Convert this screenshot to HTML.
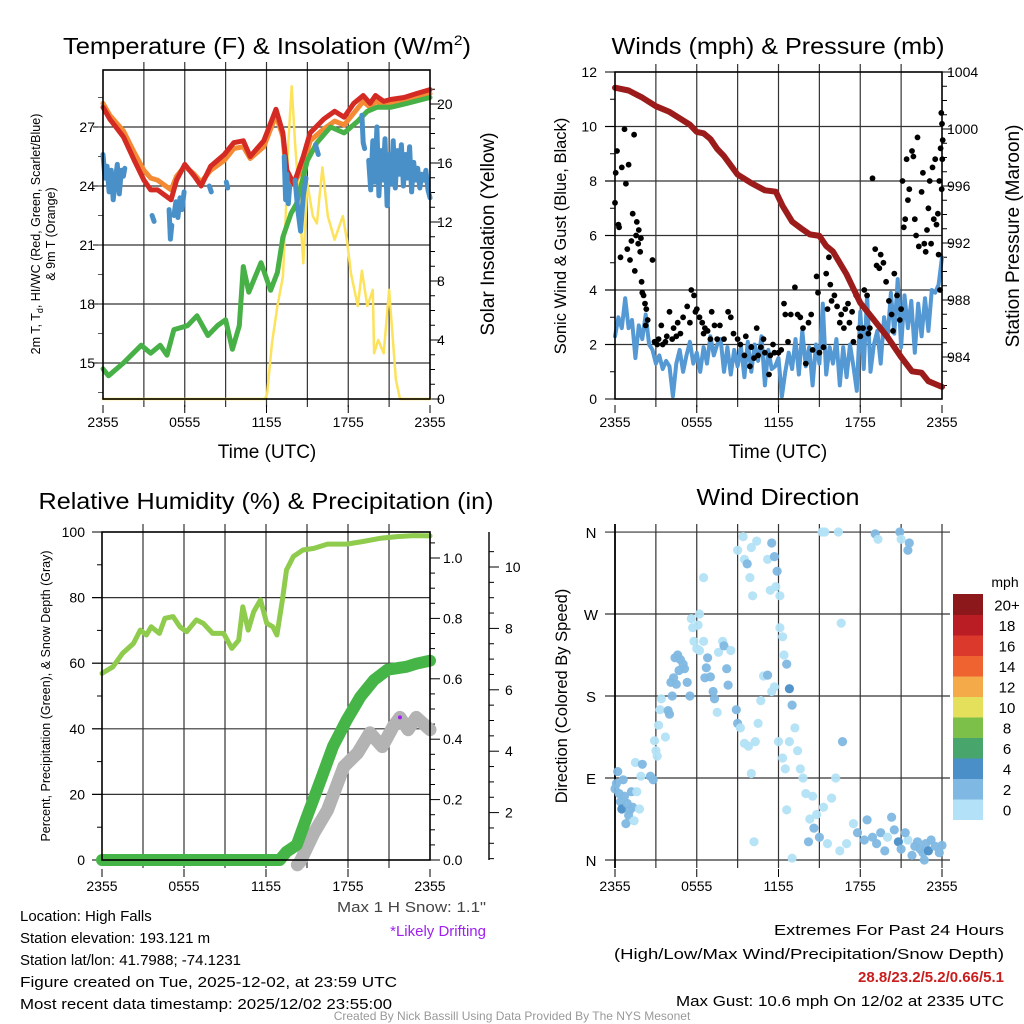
<!DOCTYPE html>
<html><head><meta charset="utf-8"><style>
html,body{margin:0;padding:0;background:#fff;}
svg{display:block;font-family:"Liberation Sans",Arial,sans-serif;}
</style></head><body>
<svg id="fig" width="1024" height="1024" viewBox="0 0 1024 1024">
<rect x="0" y="0" width="1024" height="1024" fill="#fff"/>
<text x="267" y="54" text-anchor="middle" font-size="23" textLength="408" lengthAdjust="spacingAndGlyphs">Temperature (F) &amp; Insolation (W/m<tspan dy="-9" font-size="14">2</tspan><tspan dy="9">)</tspan></text>
<text x="778" y="54" text-anchor="middle" font-size="23" textLength="333" lengthAdjust="spacingAndGlyphs">Winds (mph) &amp; Pressure (mb)</text>
<text x="266" y="509" text-anchor="middle" font-size="23" textLength="455" lengthAdjust="spacingAndGlyphs">Relative Humidity (%) &amp; Precipitation (in)</text>
<text x="778" y="505" text-anchor="middle" font-size="23" textLength="163" lengthAdjust="spacingAndGlyphs">Wind Direction</text>
<text x="267" y="458" text-anchor="middle" font-size="19">Time (UTC)</text>
<text x="778" y="458" text-anchor="middle" font-size="19">Time (UTC)</text>
<text transform="translate(40,234) rotate(-90)" text-anchor="middle" font-size="12.5">2m T, T<tspan font-size="9" dy="3">d</tspan><tspan dy="-3">, HI/WC (Red, Green, Scarlet/Blue)</tspan></text>
<text transform="translate(55,234) rotate(-90)" text-anchor="middle" font-size="12.5">&amp; 9m T (Orange)</text>
<text transform="translate(494,234) rotate(-90)" text-anchor="middle" font-size="19">Solar Insolation (Yellow)</text>
<text transform="translate(566,236) rotate(-90)" text-anchor="middle" font-size="16.5">Sonic Wind &amp; Gust (Blue, Black)</text>
<text transform="translate(1019,236) rotate(-90)" text-anchor="middle" font-size="19">Station Pressure (Maroon)</text>
<text transform="translate(50,696) rotate(-90)" text-anchor="middle" font-size="12.5">Percent, Precipitation (Green), &amp; Snow Depth (Gray)</text>
<text transform="translate(567,696) rotate(-90)" text-anchor="middle" font-size="16.5">Direction (Colored By Speed)</text>
<g font-size="15">
<text x="486" y="912" text-anchor="end" fill="#444" textLength="149" lengthAdjust="spacingAndGlyphs">Max 1 H Snow: 1.1"</text>
<text x="486" y="936" text-anchor="end" fill="#a020f0">*Likely Drifting</text>
<text x="20" y="921">Location: High Falls</text>
<text x="20" y="943">Station elevation: 193.121 m</text>
<text x="20" y="965">Station lat/lon: 41.7988; -74.1231</text>
<text x="20" y="987" textLength="377" lengthAdjust="spacingAndGlyphs">Figure created on Tue, 2025-12-02, at 23:59 UTC</text>
<text x="20" y="1009" textLength="372" lengthAdjust="spacingAndGlyphs">Most recent data timestamp: 2025/12/02 23:55:00</text>
<text x="1004" y="935" text-anchor="end" textLength="230" lengthAdjust="spacingAndGlyphs">Extremes For Past 24 Hours</text>
<text x="1004" y="959" text-anchor="end" textLength="390" lengthAdjust="spacingAndGlyphs">(High/Low/Max Wind/Precipitation/Snow Depth)</text>
<text x="1004" y="982" text-anchor="end" fill="#c81e1e" font-weight="bold">28.8/23.2/5.2/0.66/5.1</text>
<text x="1004" y="1006" text-anchor="end" textLength="328" lengthAdjust="spacingAndGlyphs">Max Gust: 10.6 mph On 12/02 at 2335 UTC</text>
</g>
<text x="512" y="1020" text-anchor="middle" font-size="12" fill="#999">Created By Nick Bassill Using Data Provided By The NYS Mesonet</text>
</svg>
<script>
// ---------- data ----------
const timeLabels = ["2355","0555","1155","1755","2355"];
const redH = [0,0.5,1.5,2.3,3,3.5,4,5,5.4,6,6.7,7.2,7.9,8.9,9.6,10.3,10.8,11.8,12.7,13.2,13.5,14,14.7,15.2,16.2,17,17.7,18.4,19.1,19.6,20,20.6,21.1,22.1,23,24];
const redT = [28.0,27.4,26.5,25.3,24.3,23.8,23.8,23.3,24.3,25.1,24.5,24.0,25.0,25.6,26.2,26.3,25.5,26.3,27.9,26.7,24.8,24.1,25.5,26.7,27.4,27.8,27.5,28.2,28.6,28.2,28.6,28.3,28.4,28.5,28.7,28.9];
const orangeH = [0,0.5,1.5,2.3,3,3.5,4,5,5.4,6,6.7,7.2,7.9,8.9,9.6,10.3,10.8,11.8,12.7,13.2,13.5,14,14.7,15.2,16.2,17,17.7,18.4,19.1,19.6,20,20.6,21.1,22.1,23,24];
const orangeT = [28.2,27.6,26.8,25.7,24.8,24.4,24.3,23.8,24.5,25.0,24.6,24.2,24.8,25.3,25.9,26.0,25.4,26.0,27.6,26.5,24.3,24.1,25.0,26.3,26.9,27.3,27.1,27.7,28.3,28.0,28.3,28.1,28.2,28.3,28.5,28.7];
const dewH = [0,0.4,1.5,2.8,3.5,4.2,4.7,5.2,6.2,6.9,7.7,8.4,9,9.5,10,10.3,10.7,11.6,12.3,12.8,13.2,13.8,14.2,15,15.7,16.7,17.7,18.7,19.4,20.1,21.1,22.3,24];
const dewT = [14.7,14.35,15.0,15.9,15.5,15.9,15.4,16.7,16.9,17.4,16.4,16.9,17.2,15.7,16.9,19.9,18.6,20.1,18.7,19.6,21.4,22.6,23.1,25.3,26.2,27.0,26.7,27.3,27.8,28.0,28.0,28.2,28.5];
const hiwcH = [0,0.15,0.3,0.45,0.6,0.75,0.9,1.05,1.2,1.35,1.5,1.6,1.65,3.6,3.75,3.8,4.85,4.95,5.05,5.1,5.2,5.35,5.5,5.65,5.8,5.95,6.0,7.8,7.95,8.0,9.05,9.15,9.2,13.3,13.4,13.5,13.6,13.7,13.9,14.1,14.3,14.5,14.7,14.9,15.0,15.6,15.8,15.9,19.0,19.1,19.2,19.3,19.5,19.65,19.8,19.95,20.1,20.25,20.4,20.55,20.7,20.85,21.0,21.15,21.3,21.45,21.6,21.75,21.9,22.05,22.2,22.35,22.5,22.65,22.8,22.95,23.1,23.25,23.4,23.55,23.7,23.85,24];
const hiwcT = [25.6,24.4,25.0,23.7,24.8,23.3,24.3,25.1,23.6,24.8,24.5,24.9,null,22.5,22.2,null,22.8,21.3,22.0,null,22.5,23.2,22.4,23.4,22.8,23.7,null,24.0,23.7,null,24.2,23.9,null,25.5,23.3,24.6,23.1,24.0,null,24.3,22.8,21.7,23.5,24.4,null,26.1,25.6,null,27.6,26.2,25.9,null,25.3,23.8,26.3,24.2,27.0,23.5,25.8,24.3,26.4,23.0,25.6,24.1,26.3,23.9,25.8,24.6,26.1,24.0,25.6,24.4,26.0,23.7,25.2,24.3,24.9,23.9,24.6,24.3,24.8,23.8,23.4];
const insH = [0,11.9,12.05,12.4,12.8,13.2,13.4,13.6,13.85,14.1,14.4,14.7,15,15.4,15.7,16.1,16.5,17,17.6,17.9,18.2,18.7,19,19.4,19.8,19.9,20.2,20.6,21,21.5,21.8,24];
const insV = [0,0,0.4,3.8,6.3,8.3,12.2,17.3,21.2,17.3,13.5,9.2,14.6,12.4,11.9,15.7,12.4,10.8,12.4,10.8,8.5,6.3,8.7,6.3,7.4,3.1,4.0,3.1,7.4,1.3,0,0];

const pressH = [0,1,2,3,4,5,5.5,6,6.5,7,7.5,8,9,10,11,11.8,12.3,13,13.7,14.3,15,15.5,16,17,18,19,20,21,21.8,22.5,23,24];
const pressV = [1002.9,1002.7,1002.2,1001.6,1001.2,1000.6,1000.3,999.8,999.7,999.3,998.6,998.1,996.8,996.2,995.7,995.6,994.6,993.5,993.0,992.6,992.5,991.8,991.4,989.8,987.8,986.6,985.4,984.0,983.0,982.9,982.3,981.9];
const windV = [2.3,3.0,2.6,3.7,2.6,2.9,1.5,2.7,2.2,3.1,2.0,1.8,1.3,1.6,1.1,1.4,
1.2,0.1,1.3,1.8,1.0,1.6,2.1,1.3,1.7,1.0,1.9,1.3,2.3,1.6,2.0,2.2,
1.0,1.9,0.9,1.8,1.2,1.9,0.8,2.1,1.0,2.0,1.4,2.3,0.5,1.8,1.1,1.2,
1.5,0.1,1.0,1.7,1.1,2.2,0.9,2.5,1.2,1.9,0.5,2.0,1.3,3.5,0.9,1.9,
1.3,2.2,0.5,1.9,0.8,2.0,1.2,0.3,3.2,1.1,3.8,1.0,2.0,2.5,1.3,3.0,
2.2,3.9,2.4,4.4,1.9,3.8,2.6,3.6,1.7,3.5,2.3,3.7,2.5,4.0,3.9,4.2,5.2];
const gustH = [0,0.05,0.15,0.25,0.3,0.4,0.5,0.7,0.8,0.9,1.0,1.1,1.2,1.3,1.4,1.45,1.55,1.6,1.7,1.75,1.85,1.9,1.95,2.0,2.1,2.2,2.3,2.4,2.25,2.75,2.9,3.1,3.2,3.4,3.5,3.7,3.8,4.0,4.2,4.3,4.5,4.6,4.8,5.0,5.3,5.5,5.6,5.8,5.9,6.0,6.2,6.4,6.5,6.6,6.8,7.0,7.1,7.3,7.5,7.7,8.0,8.3,8.5,8.7,9.0,9.2,9.5,9.6,9.9,10.0,10.2,10.4,10.5,10.7,10.9,11.0,11.3,11.4,11.6,11.7,12.0,12.2,12.4,12.5,12.7,12.9,13.2,13.4,13.6,13.8,14.0,14.2,14.4,14.5,14.8,14.9,15.0,15.3,15.5,15.6,15.7,15.8,15.9,16.1,16.3,16.5,16.6,16.8,16.9,17.1,17.2,17.4,17.5,17.7,17.9,18.0,18.2,18.3,18.5,18.6,18.7,18.9,19.1,19.2,19.4,19.5,19.7,19.9,20.1,20.3,20.4,20.5,20.7,20.9,21.0,21.1,21.2,21.3,21.4,21.5,21.6,21.8,21.9,22.0,22.1,22.2,22.3,22.5,22.6,22.7,22.8,22.9,23.0,23.1,23.2,23.3,23.4,23.5,23.6,23.7,23.75,23.8,23.85,23.9,23.95,24.0,24.02,24.05,23.98];
const gustV = [7.2,8.3,9.1,6.4,6.3,5.2,8.5,9.9,7.9,5.5,8.6,5.1,5.8,6.8,9.7,4.7,6.0,6.5,5.7,6.2,5.4,5.9,4.3,3.9,3.8,3.5,3.3,2.9,2.7,5.1,2.1,2.0,2.2,2.7,2.0,2.1,2.3,3.2,2.2,2.6,2.3,2.8,2.4,3.0,3.4,2.8,4.0,3.8,3.2,3.3,3.0,2.8,2.4,2.6,2.5,2.2,3.2,2.7,2.2,2.7,2.2,3.2,3.0,2.4,2.2,2.0,1.6,2.3,1.2,1.9,1.5,2.6,1.6,1.9,2.2,1.7,0.9,1.6,2.0,1.7,1.7,1.8,3.5,3.1,2.1,3.1,4.1,3.1,3.0,2.6,1.3,2.8,3.1,1.8,4.5,3.9,1.7,1.9,4.6,3.3,5.2,4.2,3.6,3.8,3.4,2.8,3.1,2.6,3.3,3.5,2.8,3.2,2.1,3.8,2.6,2.3,2.6,4.0,3.8,2.4,2.6,8.1,5.5,4.9,4.8,5.3,5.0,4.3,3.6,3.1,2.5,4.6,3.8,2.9,3.3,8.0,6.3,6.6,8.8,7.3,7.7,9.1,8.9,6.6,6.0,9.6,5.6,7.6,8.3,5.7,5.4,6.2,7.0,8.0,5.7,8.5,6.6,8.8,6.4,6.8,5.3,8.0,4.0,9.2,10.5,10.1,8.8,9.5,7.7];

const rhH = [0,0.8,1.5,2.3,2.8,3.25,3.6,4.2,4.6,5.2,5.7,6.2,6.9,7.4,8.1,8.9,9.5,10,10.3,10.7,11.1,11.6,12.05,12.5,12.8,13.2,13.5,14,14.7,15.5,16.5,17.9,19.1,20.4,21.6,22.8,24];
const rhV = [56.9,58.9,63,66,70.1,68.6,71.1,69.1,73.7,74.2,71.1,69.6,73.2,72.2,69.1,69.1,64.5,67,77.2,70.1,75.7,79.3,72.2,71.1,68.6,79.3,88.4,92.5,94.5,95,96.3,96.3,97.1,98.1,98.6,98.9,98.8];
const precipH = [0,13,13.5,14.25,15,16,16.9,17.9,18.9,19.9,20.9,22.3,23,24];
const precipV = [0,0,0.027,0.05,0.144,0.265,0.376,0.463,0.54,0.596,0.63,0.64,0.65,0.66];
const snowH = [14.3,14.5,15.5,16.5,17.7,18.7,19.6,20.5,21.3,21.8,22.4,23,24];
const snowV = [0.3,0.4,1.33,2.08,3.5,3.94,4.6,4.15,4.8,5.1,4.7,5.1,4.7];
const driftH = [21.8];
const driftV = [5.1];

const dirH = [0,0.1,0.2,0.3,0.4,0.5,0.6,0.7,0.8,0.9,1.0,1.1,1.2,1.3,1.4,1.5,1.6,1.8,1.9,2.0,2.6,2.8,2.9,3.0,3.1,3.2,3.3,3.4,3.7,3.9,4.0,4.1,4.2,4.3,4.4,4.5,4.6,4.7,4.8,5.0,5.1,5.3,5.5,5.6,5.8,5.7,6.0,6.2,6.5,6.6,6.7,6.8,7.0,7.2,7.3,7.5,7.6,7.9,8.0,8.2,8.3,8.5,8.9,9.0,9.2,9.5,9.8,10.0,10.3,10.5,10.7,10.9,11.2,11.5,11.7,12.0,12.3,12.5,12.6,12.8,13.0,10.2,9.0,9.4,9.5,9.7,9.9,10.1,10.4,10.0,11.2,11.5,11.7,11.9,11.8,12.1,11.4,6.5,6.1,6.2,12.1,12.3,12.4,12.6,12.8,13.0,13.2,13.4,13.6,13.8,14.0,14.5,14.8,15.3,14.3,14.6,14.2,15.0,15.6,16.5,16.7,16.2,15.9,16.6,17.0,17.5,17.8,18.3,18.5,18.9,19.2,19.5,19.8,20.0,20.3,20.5,20.8,21.0,21.5,21.8,22.0,22.2,22.4,22.6,22.8,23.0,23.2,23.5,23.8,24.0,22.7,21.3,20.9,21.0,21.6,21.5,19.1,19.3,15.2,15.4,16.4];
const dirV = [78,84,97,73,64,56,88,70,40,62,49,55,75,58,43,107,75,56,92,105,92,88,131,120,114,148,165,177,135,164,160,195,180,200,222,193,225,208,220,215,210,195,180,265,240,255,232,230,240,200,211,222,201,185,177,162,228,240,235,210,192,230,165,150,145,128,125,95,130,150,175,202,203,185,190,130,112,100,55,130,2,20,340,355,330,325,310,290,350,343,330,348,333,317,300,290,296,310,258,270,255,245,225,215,188,170,145,120,100,90,73,70,50,58,45,35,20,25,18,10,130,90,68,260,18,40,30,22,44,25,18,30,10,25,47,33,20,12,22,5,15,20,12,8,18,10,22,15,8,16,0,30,360,352,348,340,358,352,360,360,360];
const dirS = [3,3,3,3,2,4,3,2,3,2,2,2,3,2,1,1,1,1,1,2,3,3,1,1,1,1,1,1,1,2,2,3,2,3,3,2,3,2,3,2,3,2,3,1,1,1,1,1,1,2,2,3,3,2,2,1,1,1,2,2,3,1,3,3,1,1,1,1,1,1,1,1,3,1,1,1,1,1,1,1,1,1,1,1,1,2,1,1,1,1,1,3,3,2,1,1,1,1,1,1,1,1,1,2,4,2,1,1,1,1,1,1,1,1,1,2,3,2,1,1,2,1,1,1,1,1,2,2,3,3,2,3,2,1,2,3,4,3,1,3,3,2,3,3,3,4,3,3,3,3,3,3,3,1,2,3,3,1,1,1,1,1];
const cbLabels = ["0","2","4","6","8","10","12","14","16","18","20+"];
const cbColors = ["#b3e1f7","#7fb8e2","#4a8fc7","#48a66c","#7cc04a","#e4e05b","#f5aa4a","#ee6330","#db392c","#bb1d24","#8d181b"];
const dirLabels = ["N","E","S","W","N"];

// ---------- helpers ----------
const NS = "http://www.w3.org/2000/svg";
const svg = document.getElementById("fig");
function mk(tag, attrs, name, parent) {
  const el = document.createElementNS(NS, tag);
  for (const k in attrs) el.setAttribute(k, attrs[k]);
  
  
  (parent || svg).appendChild(el);
  return el;
}
function txt(x, y, s, anchor, size, name, fill) {
  const t = mk("text", {x: x, y: y, "text-anchor": anchor, "font-size": size, fill: fill || "#000"}, name);
  t.textContent = s;
  return t;
}
function pathFrom(hs, vs, fx, fy) {
  let d = "", pen = false;
  for (let i = 0; i < hs.length; i++) {
    if (vs[i] === null) { pen = false; continue; }
    d += (pen ? "L" : "M") + fx(hs[i]).toFixed(1) + " " + fy(vs[i]).toFixed(1);
    pen = true;
  }
  return d;
}
function series(hs, vs, fx, fy, color, w, name) {
  return mk("path", {d: pathFrom(hs, vs, fx, fy), fill: "none", stroke: color, "stroke-width": w, "stroke-linejoin": "round", "stroke-linecap": "round"}, name);
}
function ln(x1, y1, x2, y2, w, name, c) {
  return mk("line", {x1: x1, y1: y1, x2: x2, y2: y2, stroke: c || "#000", "stroke-width": w}, name);
}
function grid(x0, x1, y0, y1, hy, name) {
  for (let i = 1; i < 8; i++) {
    const x = x0 + (x1 - x0) * i / 8;
    ln(x, y0 - 8, x, y1 + 8, 1.2, name + "-vgrid", "#333");
  }
  hy.forEach(y => ln(x0 - 10, y, x1, y, 1.2, name + "-hgrid", "#333"));
}
function box(x0, x1, y0, y1, name) {
  mk("rect", {x: x0, y: y0, width: x1 - x0, height: y1 - y0, fill: "none", stroke: "#000", "stroke-width": 1.6}, name);
}
function xlabels(x0, x1, y, name) {
  timeLabels.forEach((s, i) => {
    const x = x0 + (x1 - x0) * i / 4;
    ln(x, y - 22, x, y - 14, 1, name + "-tick");
    txt(x, y, s, "middle", 14, name + "-label");
  });
}

// ---------- panel 1: temperature ----------
(function () {
  const x0 = 103, x1 = 430, y0 = 70, y1 = 399;
  const fx = h => x0 + h * (x1 - x0) / 24;
  const fy = t => 186 - (t - 24) * 19.67;
  const fi = v => 399 - v * 14.75;
  const tTicks = [15, 18, 21, 24, 27];
  grid(x0, x1, y0, y1, tTicks.map(fy), "temp");
  tTicks.forEach(t => txt(95, fy(t) + 5, String(t), "end", 14, "temp-y-tick-label"));
  for (let t = 13.5; t <= 29.5; t += 1.5) ln(x0 - 5, fy(t), x0, fy(t), 1, "temp-y-minor-tick", "#555");
  for (let v = 0; v <= 21; v++) ln(x1, fi(v), x1 + (v % 4 === 0 ? 10 : 5), fi(v), 1, "insolation-tick");
  [0, 4, 8, 12, 16, 20].forEach(v => txt(437, fi(v) + 5, String(v), "start", 14, "insolation-tick-label"));
  xlabels(x0, x1, 427, "temp-x");
  series(insH, insV, fx, fi, "#fde25c", 2.5, "insolation-line");
  series(orangeH, orangeT, fx, fy, "#f58a34", 5, "nine-m-temp-line");
  series(redH, redT, fx, fy, "#d42a24", 5, "two-m-temp-line");
  series(dewH, dewT, fx, fy, "#47b047", 5, "dewpoint-line");
  series(hiwcH, hiwcT, fx, fy, "#4a90c8", 5, "heat-index-windchill-line");
  box(x0, x1, y0, y1, "temp-plot-frame");
})();

// ---------- panel 2: winds ----------
(function () {
  const x0 = 615, x1 = 942, y0 = 72, y1 = 399;
  const fx = h => x0 + h * (x1 - x0) / 24;
  const fy = m => 399 - m * 27.25;
  const fp = p => 357 - (p - 984) * 14.25;
  const wTicks = [0, 2, 4, 6, 8, 10, 12];
  grid(x0, x1, y0, y1, wTicks.slice(1, 6).map(fy), "wind");
  wTicks.forEach(m => { ln(x0 - 10, fy(m), x0, fy(m), 1, "wind-y-tick"); txt(597, fy(m) + 5, String(m), "end", 14, "wind-y-tick-label"); });
  for (let m = 1; m < 12; m += 2) ln(x0 - 5, fy(m), x0, fy(m), 1, "wind-y-minor-tick");
  for (let p = 982; p <= 1004; p++) ln(x1, fp(p), x1 + (p % 4 === 0 ? 10 : 5), fp(p), 1, "pressure-tick");
  [984, 988, 992, 996, 1000, 1004].forEach(p => txt(947, fp(p) + 5, String(p), "start", 14, "pressure-tick-label"));
  xlabels(x0, x1, 427, "wind-x");
  const wH = windV.map((v, i) => i * 0.25);
  series(wH, windV, fx, fy, "#5498d4", 4, "sonic-wind-line");
  gustH.forEach((h, i) => mk("circle", {cx: fx(h).toFixed(1), cy: fy(gustV[i]).toFixed(1), r: 2.9, fill: "#000"}, "gust-point"));
  series(pressH, pressV, fx, fp, "#9c1b1b", 6, "pressure-line");
  box(x0, x1, y0, y1, "wind-plot-frame");
})();

// ---------- panel 3: humidity ----------
(function () {
  const x0 = 102, x1 = 430, y0 = 532, y1 = 860;
  const fx = h => x0 + h * (x1 - x0) / 24;
  const fy = p => 860 - p * 3.28;
  const fpr = v => 860 - v * 302;
  const fs = s => 874 - s * 30.7;
  const rTicks = [0, 20, 40, 60, 80, 100];
  grid(x0, x1, y0, y1, rTicks.slice(1, 5).map(fy), "rh");
  rTicks.forEach(p => { ln(x0 - 10, fy(p), x0, fy(p), 1, "rh-y-tick"); txt(85, fy(p) + 5, String(p), "end", 14, "rh-y-tick-label"); });
  for (let p = 10; p < 100; p += 20) ln(x0 - 5, fy(p), x0, fy(p), 1, "rh-y-minor-tick");
  for (let k = 0; k <= 21; k++) { const v = k * 0.05; ln(x1, fpr(v), x1 + (k % 4 === 0 ? 10 : 5), fpr(v), 1, "precip-tick"); }
  ["0.0", "0.2", "0.4", "0.6", "0.8", "1.0"].forEach((s, i) => txt(443, fpr(i * 0.2) + 5, s, "start", 14, "precip-tick-label"));
  ln(489, y0, 489, y1, 1.4, "snow-axis-line");
  for (let k = 1; k <= 21; k++) { const s = k * 0.5; if (fs(s) >= y0) ln(489, fs(s), 489 + (k % 4 === 0 ? 10 : 5), fs(s), 1, "snow-tick"); }
  [2, 4, 6, 8, 10].forEach(s => txt(505, fs(s) + 5, String(s), "start", 14, "snow-tick-label"));
  xlabels(x0, x1, 891, "rh-x");
  series(rhH, rhV, fx, fy, "#8fcb4d", 5, "humidity-line");
  series(snowH, snowV, fx, fs, "#b3b3b3", 13, "snow-depth-line");
  series(precipH, precipV, fx, fpr, "#46b548", 12, "precipitation-line");
  driftH.forEach((h, i) => mk("circle", {cx: fx(h), cy: fs(driftV[i]), r: 2, fill: "#a020f0"}, "drifting-marker"));
  box(x0, x1, y0, y1, "rh-plot-frame");
})();

// ---------- panel 4: wind direction ----------
(function () {
  const x0 = 615, x1 = 942, y0 = 532, y1 = 860;
  const fx = h => x0 + h * (x1 - x0) / 24;
  const fy = d => 860 - d * 0.911;
  for (let i = 1; i <= 8; i++) { const x = x0 + (x1 - x0) * i / 8; ln(x, y0 - 8, x, y1 + 8, 1.2, "dir-vgrid", "#333"); }
  dirLabels.forEach((s, i) => { const y = fy(i * 90); ln(x0 - 10, y, 950, y, 1.2, "dir-hgrid", "#333"); txt(591, y + 6, s, "middle", 15, "dir-y-tick-label"); });
  ln(x0, y0 - 8, x0, y1 + 8, 1.8, "dir-y-axis-line");
  xlabels(x0, x1, 891, "dir-x");
  const col = s => cbColors[Math.min(10, Math.floor(s / 2))];
  dirH.forEach((h, i) => mk("circle", {cx: fx(h).toFixed(1), cy: fy(dirV[i]).toFixed(1), r: 4.6, fill: col(dirS[i]), opacity: 0.95}, "direction-point"));
  const cy0 = 594, seg = 20.5;
  cbColors.forEach((c, i) => {
    const y = cy0 + (10 - i) * seg;
    mk("rect", {x: 953, y: y, width: 30, height: seg + 0.5, fill: c}, "colorbar-swatch");
    txt(1007, y + seg / 2 + 6, cbLabels[i], "middle", 15, "colorbar-label");
  });
  txt(1005, 587, "mph", "middle", 14, "colorbar-title");
})();
</script>
</body></html>
